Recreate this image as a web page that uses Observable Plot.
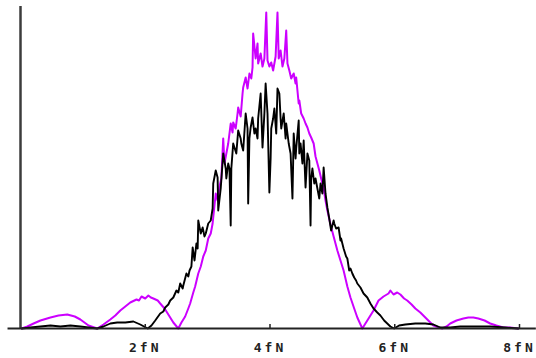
<!DOCTYPE html>
<html>
<head>
<meta charset="utf-8">
<script src="https://cdn.jsdelivr.net/npm/d3@7"></script>
<script src="https://cdn.jsdelivr.net/npm/@observablehq/plot@0.6"></script>
<style>
  html, body { margin: 0; padding: 0; background: #fff; }
  svg { display: block; }
</style>
</head>
<body>
<div id="chart"></div>
<script>
// Frequency axis ticks (in units of fN)
const tickValues = [2, 4, 6, 8];
const tickLabels = ["2fN", "4fN", "6fN", "8fN"];

// Magenta spectrum: frequency (fN) and level (arbitrary units)
const magentaFreq = [0.02,0.11,0.21,0.32,0.48,0.61,0.75,0.87,0.96,1.09,1.23,1.33,1.44,1.52,1.60,1.68,1.76,1.86,1.90,1.94,1.97,2.00,2.05,2.09,2.13,2.20,2.24,2.31,2.36,2.40,2.45,2.53,2.58,2.64,2.69,2.72,2.77,2.80,2.85,2.89,2.93,2.97,3.01,3.05,3.08,3.09,3.13,3.16,3.19,3.22,3.25,3.27,3.30,3.33,3.37,3.40,3.41,3.45,3.48,3.49,3.53,3.56,3.57,3.61,3.64,3.67,3.70,3.72,3.73,3.77,3.80,3.81,3.85,3.88,3.91,3.94,3.96,3.99,4.02,4.05,4.09,4.12,4.14,4.17,4.20,4.23,4.26,4.28,4.31,4.34,4.38,4.41,4.42,4.46,4.47,4.50,4.54,4.57,4.60,4.63,4.66,4.70,4.73,4.76,4.79,4.82,4.86,4.89,4.92,4.97,5.02,5.08,5.13,5.18,5.24,5.29,5.35,5.40,5.48,5.56,5.66,5.74,5.82,5.90,5.93,5.98,6.04,6.09,6.15,6.20,6.27,6.33,6.41,6.49,6.57,6.62,6.76,6.83,6.89,6.99,7.10,7.18,7.26,7.34,7.44,7.53,7.63,7.74,7.85,7.98];
const magentaLevel = [0,2,5,8,11,13,14,12,9,3,0,4,9,13,18,22,26,29,28,32,31,30,33,31,30,28,25,20,15,11,6,0,6,12,20,25,36,42,55,62,72,78,90,95,105,111,135,128,142,150,190,165,175,185,205,196,206,200,215,221,212,235,241,251,240,255,250,261,295,270,285,265,275,262,270,316,268,262,266,258,272,316,270,278,262,270,298,265,258,250,255,245,251,225,228,215,210,205,201,195,191,185,172,165,158,150,140,128,118,104,92,78,68,58,42,31,20,11,0,8,18,28,32,35,38,34,36,34,30,28,24,20,16,11,6,3,0,2,5,8,10,11,11,10,8,5,3,1,1,0];

// Black spectrum: frequency (fN) and level
const blackFreq = [0.02,0.16,0.32,0.48,0.64,0.80,0.96,1.09,1.23,1.33,1.44,1.55,1.68,1.81,1.92,2.04,2.10,2.16,2.24,2.29,2.32,2.37,2.40,2.45,2.50,2.53,2.56,2.60,2.61,2.66,2.69,2.71,2.74,2.76,2.79,2.82,2.84,2.85,2.89,2.92,2.95,2.97,3.01,3.05,3.08,3.09,3.13,3.16,3.17,3.21,3.25,3.29,3.30,3.33,3.35,3.37,3.38,3.41,3.46,3.49,3.53,3.54,3.57,3.61,3.64,3.65,3.67,3.69,3.72,3.75,3.77,3.80,3.81,3.85,3.88,3.91,3.93,3.96,3.99,4.01,4.02,4.05,4.07,4.10,4.12,4.15,4.17,4.18,4.22,4.25,4.26,4.30,4.33,4.36,4.38,4.41,4.42,4.46,4.47,4.49,4.52,4.54,4.57,4.60,4.63,4.65,4.66,4.68,4.71,4.73,4.76,4.79,4.81,4.84,4.86,4.89,4.92,4.95,4.98,5.02,5.03,5.06,5.10,5.13,5.14,5.18,5.19,5.22,5.24,5.27,5.29,5.32,5.35,5.38,5.40,5.45,5.50,5.53,5.56,5.61,5.66,5.72,5.77,5.83,5.88,5.93,5.99,6.07,6.17,6.33,6.49,6.62,6.73,6.89,7.05,7.29,7.53,7.77,7.98];
const blackLevel = [0,1,2,3,2,3,2,1,0,2,5,6,6,7,4,0,3,8,15,17,21,24,28,31,38,36,45,40,43,55,52,58,62,81,68,85,80,108,95,101,92,95,105,108,120,145,158,151,118,140,175,160,150,165,160,103,160,185,175,198,190,185,178,215,200,125,190,201,211,195,200,190,210,235,181,215,245,215,136,170,200,210,220,195,240,235,210,200,215,190,205,185,175,130,195,170,180,208,175,185,165,188,141,175,168,103,150,160,145,150,140,130,145,135,161,135,121,110,98,108,105,100,101,88,90,80,78,72,70,58,60,55,51,48,45,41,35,33,31,25,20,16,13,8,5,2,0,3,4,5,5,4,1,1,2,2,2,1,0];

const magenta = magentaFreq.map((f, i) => ({f, v: magentaLevel[i]}));
const black = blackFreq.map((f, i) => ({f, v: blackLevel[i]}));

const chart = Plot.plot({
  width: 536,
  height: 358,
  marginLeft: 20,
  marginRight: 17,
  marginTop: 6,
  marginBottom: 30,
  style: {background: "#fff", overflow: "visible"},
  x: {domain: [0, 8]},
  y: {domain: [0, 322], axis: null},
  marks: [
    Plot.axisX(tickValues, {
      tickSize: 0,
      tickPadding: 14,
      tickFormat: (d) => tickLabels[tickValues.indexOf(d)],
      fontSize: 13,
      fontFamily: "DejaVu Sans Mono",
      fontWeight: "bold",
      fill: "#222",
      label: null
    }),
    Plot.ruleX([0], {y1: 0, y2: 322, stroke: "#3c3c3c", strokeWidth: 2.5}),
    Plot.line(magenta, {x: "f", y: "v", stroke: "#cc00ff", strokeWidth: 2}),
    Plot.line(black, {x: "f", y: "v", stroke: "#000", strokeWidth: 1.9}),
    Plot.ruleY([0], {x1: -0.2, x2: 8.27, stroke: "#222", strokeWidth: 2}),
    Plot.ruleX(tickValues, {y1: 0, y2: 4, stroke: "#222", strokeWidth: 1.5})
  ]
});
chart.querySelectorAll('g[aria-label="x-axis tick label"] text').forEach(t => {
  t.setAttribute("letter-spacing", "3");
  t.setAttribute("font-size", "13");
});
document.getElementById("chart").appendChild(chart);
</script>
</body>
</html>
